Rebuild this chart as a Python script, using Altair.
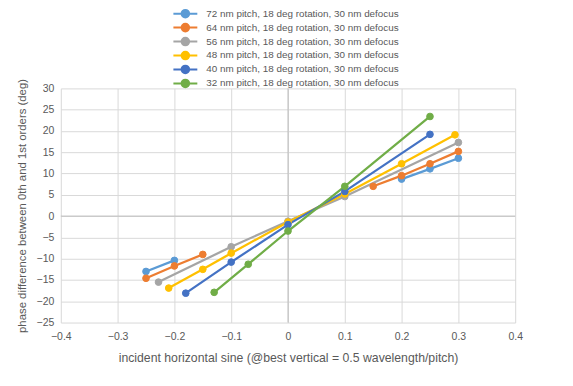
import altair as alt
import pandas as pd

series_names = [
    "72 nm pitch, 18 deg rotation, 30 nm defocus",
    "64 nm pitch, 18 deg rotation, 30 nm defocus",
    "56 nm pitch, 18 deg rotation, 30 nm defocus",
    "48 nm pitch, 18 deg rotation, 30 nm defocus",
    "40 nm pitch, 18 deg rotation, 30 nm defocus",
    "32 nm pitch, 18 deg rotation, 30 nm defocus",
]
colors = ["#5B9BD5", "#ED7D31", "#A5A5A5", "#FFC000", "#4472C4", "#70AD47"]

# each series: list of segments (x list, y list); gaps between segments
s72_x = [[-0.25, -0.2], [0.2, 0.25, 0.3]]
s72_y = [[-13.0, -10.4], [8.7, 11.1, 13.6]]
s64_x = [[-0.25, -0.2, -0.15], [0.15, 0.2, 0.25, 0.3]]
s64_y = [[-14.6, -11.7, -9.0], [7.0, 9.5, 12.3, 15.2]]
s56_x = [[-0.228, -0.1, 0.0, 0.1, 0.3]]
s56_y = [[-15.5, -7.2, -1.2, 4.6, 17.3]]
s48_x = [[-0.21, -0.15, -0.1, 0.0, 0.1, 0.2, 0.294]]
s48_y = [[-16.9, -12.5, -8.7, -1.4, 5.2, 12.3, 19.1]]
s40_x = [[-0.18, -0.1, 0.0, 0.1, 0.25]]
s40_y = [[-18.1, -10.8, -2.0, 5.8, 19.2]]
s32_x = [[-0.13, -0.07, 0.0, 0.1, 0.25]]
s32_y = [[-17.9, -11.3, -3.5, 7.0, 23.4]]

all_x = [s72_x, s64_x, s56_x, s48_x, s40_x, s32_x]
all_y = [s72_y, s64_y, s56_y, s48_y, s40_y, s32_y]

x_ticks = [-0.4, -0.3, -0.2, -0.1, 0, 0.1, 0.2, 0.3, 0.4]
y_ticks = [-25, -20, -15, -10, -5, 0, 5, 10, 15, 20, 25, 30]

rows = []
for si, (name, xs, ys) in enumerate(zip(series_names, all_x, all_y)):
    for gi, (sx, sy) in enumerate(zip(xs, ys)):
        for xv, yv in zip(sx, sy):
            rows.append({"series": name, "seg": f"{si}-{gi}", "order": si, "x": xv, "y": yv})
df = pd.DataFrame(rows)

font = "Liberation Sans"
text_color = "#595959"

xscale = alt.Scale(domain=[-0.4, 0.4], nice=False, zero=False)
yscale = alt.Scale(domain=[-25, 30], nice=False, zero=False)

x_axis = alt.Axis(values=x_ticks, title="incident horizontal sine (@best vertical = 0.5 wavelength/pitch)",
                  format="~g", grid=True, domain=False, ticks=False, labelPadding=9,
                  titlePadding=10, titleFontSize=12.3, labelOverlap=False, tickCount=9)
y_axis = alt.Axis(values=y_ticks, title="phase difference between  0th and 1st orders (deg)",
                  grid=True, domain=False, ticks=False, labelPadding=7, titlePadding=9,
                  titleFontSize=11.4, labelOverlap=False, tickCount=12)

sym_path = "M-3,0L3,0M-0.95,0A0.95,0.95 0 1,0 0.95,0A0.95,0.95 0 1,0 -0.95,0"

legend = alt.Legend(
    title=None,
    orient="none",
    legendX=120,
    legendY=-80,
    symbolType=sym_path,
    symbolSize=64,
    symbolStrokeWidth=2,
    labelOffset=16,
    labelFont=font,
    labelFontSize=9.9,
    labelColor=text_color,
    rowPadding=-2,
    labelLimit=400,
)
color_scale = alt.Scale(domain=series_names, range=colors)

zero_df = pd.DataFrame({"v": [0]})

hrule = alt.Chart(zero_df).mark_rule(color="#BFBFBF", strokeWidth=1).encode(
    y=alt.Y("v:Q", scale=yscale, axis=y_axis)
)
vrule = alt.Chart(zero_df).mark_rule(color="#BFBFBF", strokeWidth=1).encode(
    x=alt.X("v:Q", scale=xscale, axis=x_axis)
)

base = alt.Chart(df)
lines = base.mark_line(strokeWidth=2.25).encode(
    x=alt.X("x:Q", scale=xscale, axis=x_axis),
    y=alt.Y("y:Q", scale=yscale, axis=y_axis),
    stroke=alt.Stroke("series:N", scale=color_scale, legend=legend),
    detail="seg:N",
    order="order:Q",
)
points = base.mark_point(filled=True, size=45, opacity=1, strokeWidth=1).encode(
    x=alt.X("x:Q", scale=xscale, axis=x_axis),
    y=alt.Y("y:Q", scale=yscale, axis=y_axis),
    fill=alt.Fill("series:N", scale=color_scale, legend=legend),
    stroke=alt.Stroke("series:N", scale=color_scale, legend=legend),
)

chart = alt.layer(hrule, vrule, lines, points).properties(
    width=456,
    height=235,
    autosize=alt.AutoSizeParams(type="none"),
    padding={"left": 53, "top": 80, "right": 50, "bottom": 63},
).configure_view(stroke=None).configure_axis(
    gridColor="#D9D9D9",
    gridWidth=1,
    labelFont=font,
    labelFontSize=10.5,
    labelColor=text_color,
    titleFont=font,
    titleColor=text_color,
    titleFontWeight="normal",
).configure_axisX(labelFlush=False)

chart.save("out.html", embed_options={"renderer": "svg", "actions": False})
